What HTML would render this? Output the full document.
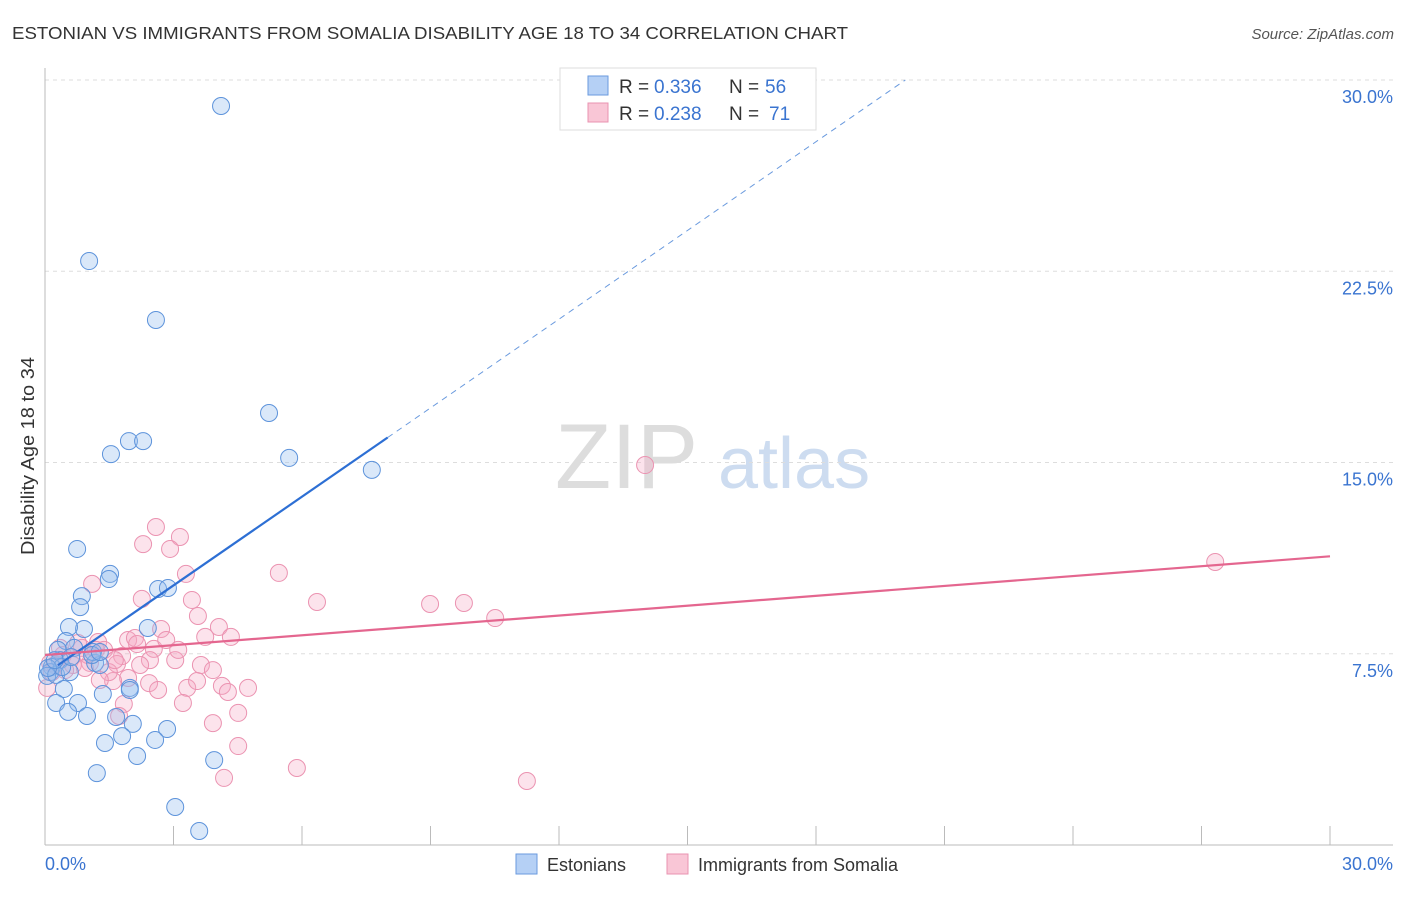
<!DOCTYPE html>
<html><head><meta charset="utf-8"><style>
body{margin:0;background:#fff;font-family:"Liberation Sans",sans-serif}
svg text{font-family:"Liberation Sans",sans-serif}
</style></head><body>
<svg id="c" width="1406" height="892">
<text x="12" y="39" font-size="17.5" fill="#333" textLength="836" lengthAdjust="spacingAndGlyphs">ESTONIAN VS IMMIGRANTS FROM SOMALIA DISABILITY AGE 18 TO 34 CORRELATION CHART</text>
<text x="1394" y="39" font-size="15" fill="#555" font-style="italic" text-anchor="end">Source: ZipAtlas.com</text>
<text x="555" y="488" font-size="92" fill="#ddd" font-family="Liberation Serif">ZIP</text>
<text x="718" y="488" font-size="72" fill="#cddcf0">atlas</text>
<text transform="translate(34,456) rotate(-90)" font-size="18" fill="#333" text-anchor="middle" textLength="198" lengthAdjust="spacingAndGlyphs">Disability Age 18 to 34</text>
<g id="grid"></g><g id="pts"></g><g id="lines"></g>
<g>
<rect x="560" y="68" width="256" height="62" fill="#fff" stroke="#ddd"/>
<rect x="588" y="76" width="20" height="19" fill="#b5d0f5" stroke="#6a9ade"/>
<rect x="588" y="103" width="20" height="19" fill="#f9c6d6" stroke="#e993b0"/>
<text x="619" y="93" font-size="19" fill="#333">R =</text>
<text x="654" y="93" font-size="19" fill="#3a74d0">0.336</text>
<text x="729" y="93" font-size="19" fill="#333">N =</text>
<text x="765" y="93" font-size="19" fill="#3a74d0">56</text>
<text x="619" y="120" font-size="19" fill="#333">R =</text>
<text x="654" y="120" font-size="19" fill="#3a74d0">0.238</text>
<text x="729" y="120" font-size="19" fill="#333">N =</text>
<text x="769" y="120" font-size="19" fill="#3a74d0">71</text>
</g>
<g>
<rect x="516" y="854" width="21" height="20" fill="#b5d0f5" stroke="#6a9ade"/>
<text x="547" y="871" font-size="18" fill="#333">Estonians</text>
<rect x="667" y="854" width="21" height="20" fill="#f9c6d6" stroke="#e993b0"/>
<text x="698" y="871" font-size="18" fill="#333">Immigrants from Somalia</text>
</g>
</svg>
<script>
const blueX=[4.11,1.03,2.59,5.23,1.96,2.29,1.54,5.70,7.63,0.75,1.52,1.49,0.86,0.82,0.91,2.64,2.87,2.40,0.56,0.49,0.68,0.30,0.35,0.16,0.12,0.05,0.26,0.58,1.17,1.28,1.12,0.44,0.26,0.77,1.35,1.98,1.98,0.54,0.98,1.66,2.05,2.85,1.80,1.40,2.57,2.15,3.95,1.21,3.04,3.60,1.10,0.40,0.07,0.23,1.28,0.61];
const blueY=[28.98,22.90,20.59,16.94,15.84,15.84,15.33,15.18,14.71,11.61,10.63,10.43,9.76,9.33,8.47,10.04,10.08,8.51,8.55,8.00,7.73,7.65,7.25,6.98,6.78,6.63,6.67,6.78,7.14,7.06,7.57,6.12,5.57,5.57,5.92,6.16,6.08,5.22,5.06,5.02,4.75,4.55,4.27,4.00,4.12,3.49,3.33,2.82,1.49,0.55,7.45,6.98,6.94,7.25,7.57,7.37];
const pinkX=[14.01,27.32,2.59,3.15,2.29,2.92,5.46,3.29,6.35,8.99,9.78,10.51,1.10,2.26,3.43,3.57,4.06,4.34,3.74,2.71,1.94,2.10,2.54,1.24,2.15,3.04,1.80,3.64,3.92,1.68,1.05,0.86,0.77,1.19,0.42,0.23,0.16,0.05,0.61,1.94,1.59,2.43,2.64,3.32,3.55,4.13,4.27,4.74,3.22,1.84,1.73,4.51,3.92,4.51,4.18,5.88,11.25,0.35,1.38,0.65,1.00,2.83,1.49,0.93,0.12,0.47,2.45,2.22,1.28,3.11,1.63];
const pinkY=[14.90,11.10,12.47,12.08,11.80,11.61,10.67,10.63,9.53,9.45,9.49,8.90,10.24,9.65,9.61,8.98,8.55,8.16,8.16,8.47,8.04,8.12,7.69,7.96,7.88,7.25,7.41,7.06,6.86,7.10,7.14,7.73,7.92,7.65,7.45,7.06,6.78,6.16,7.37,6.55,6.43,6.35,6.08,6.16,6.43,6.24,6.00,6.16,5.57,5.53,5.06,5.18,4.78,3.88,2.63,3.02,2.51,7.73,7.65,7.06,7.45,8.04,6.78,6.94,7.14,6.86,7.25,7.06,6.47,7.65,7.25];
const yTicks=[7.5,15,22.5,30];
const yTickLabels=["7.5%","15.0%","22.5%","30.0%"];
const blueTrend=[6.7,1.16,8.0];
const pinkTrend=[7.45,0.129];
const X0=45,X1=1330,Y0=845,Y1=80;
const xs=v=>X0+v/30*(X1-X0), ys=v=>Y0-v/30*(Y0-Y1);
const NS="http://www.w3.org/2000/svg";
function mk(t,a,p){const e=document.createElementNS(NS,t);for(const k in a)e.setAttribute(k,a[k]);p.appendChild(e);return e;}
const g=document.getElementById('grid');
yTicks.forEach((t,i)=>{const l=mk('line',{x1:X0,x2:1393,y1:ys(t),y2:ys(t),stroke:'#ddd','stroke-dasharray':'4,4'},g);


const tx=mk('text',{x:1393,y:ys(t)+23,'font-size':18,fill:'#3a74d0','text-anchor':'end'},g);tx.textContent=yTickLabels[i];

});
const ax=mk('line',{x1:X0,x2:X0,y1:68,y2:Y0,stroke:'#bbb'},g);


const bx=mk('line',{x1:X0,x2:1393,y1:Y0,y2:Y0,stroke:'#bbb'},g);


for(let i=1;i<=10;i++){const t=mk('line',{x1:xs(i*3),x2:xs(i*3),y1:826,y2:Y0,stroke:'#bbb'},g);

}
const l0=mk('text',{x:45,y:870,'font-size':18,fill:'#3a74d0'},g);l0.textContent='0.0%';


const l1=mk('text',{x:1393,y:870,'font-size':18,fill:'#3a74d0','text-anchor':'end'},g);l1.textContent='30.0%';


const P=document.getElementById('pts');
pinkX.forEach((x,i)=>{const c=mk('circle',{cx:xs(x),cy:ys(pinkY[i]),r:8.5,fill:'rgba(246,170,196,0.33)',stroke:'#eb93b1','stroke-width':1},P);

});
blueX.forEach((x,i)=>{const c=mk('circle',{cx:xs(x),cy:ys(blueY[i]),r:8.5,fill:'rgba(150,188,238,0.35)',stroke:'#5d93db','stroke-width':1},P);

});
const L=document.getElementById('lines');
const bf=v=>blueTrend[0]+blueTrend[1]*v;
const bl=mk('line',{x1:xs(0.3),y1:ys(bf(0.3)),x2:xs(blueTrend[2]),y2:ys(bf(blueTrend[2])),stroke:'#2d6fd4','stroke-width':2.2},L);


const xe=(30-blueTrend[0])/blueTrend[1];
const bd=mk('line',{x1:xs(blueTrend[2]),y1:ys(bf(blueTrend[2])),x2:xs(xe),y2:ys(30),stroke:'#6a9ade','stroke-width':1,'stroke-dasharray':'6,5'},L);


const pl=mk('line',{x1:xs(0),y1:ys(pinkTrend[0]),x2:xs(30),y2:ys(pinkTrend[0]+pinkTrend[1]*30),stroke:'#e4668f','stroke-width':2.2},L);


</script>
</body></html>
